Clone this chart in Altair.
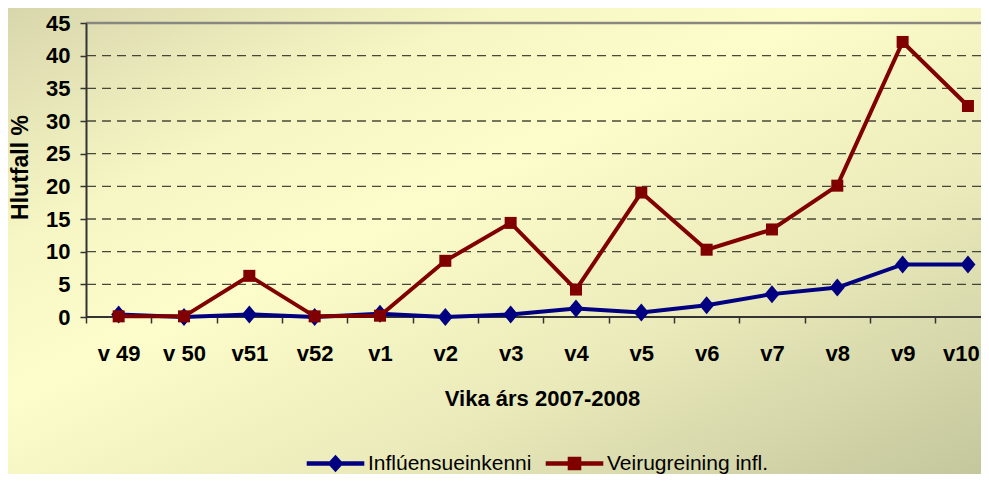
import altair as alt
import pandas as pd

weeks = ['v 49', 'v 50', 'v51', 'v52', 'v1', 'v2', 'v3', 'v4', 'v5', 'v6', 'v7', 'v8', 'v9', 'v10']
influ = [0.37, 0.0, 0.4, 0.0, 0.5, 0.0, 0.4, 1.3, 0.7, 1.8, 3.5, 4.5, 8.05, 8.05]
veiru = [0.1, 0.1, 6.3, 0.1, 0.2, 8.6, 14.4, 4.2, 19.05, 10.3, 13.4, 20.1, 42.1, 32.3]
y_ticks = [0, 5, 10, 15, 20, 25, 30, 35, 40, 45]
series_names = ['Inflúensueinkenni', 'Veirugreining infl.']

BLUE = '#000080'
RED = '#800000'
FONT = 'Liberation Sans'

W, H = 895, 294
STEP = 65.33

df = pd.DataFrame({'idx': list(range(len(weeks))), 'week': weeks,
                   'influ': influ, 'veiru': veiru})
df_b = df.assign(series=series_names[0])
df_r = df.assign(series=series_names[1])
grid_df = pd.DataFrame({'v': y_ticks[1:-1]})
top_df = pd.DataFrame({'v': y_ticks[-1:]})
base_df = pd.DataFrame({'v': y_ticks[:1]})

label_expr = '[' + ','.join("'" + w + "'" for w in weeks) + '][round(datum.value + 0.5)]'
last_tick = len(weeks) - 1.5

xscale = alt.Scale(domain=[-0.5, -0.5 + W / STEP], nice=False, zero=False)
yscale = alt.Scale(domain=[0, 45], nice=False)

xaxis = alt.Axis(values=[i - 0.5 for i in range(len(weeks))], labelExpr=label_expr,
                 labelOffset={'condition': {'test': f'datum.value > {last_tick - 0.1}', 'value': 44},
                              'value': STEP / 2},
                 labelAlign={'condition': {'test': f'datum.value > {last_tick - 0.1}', 'value': 'right'},
                             'value': 'center'},
                 labelFlush=False, labelOverlap=False, labelBound=False,
                 labelFont=FONT, labelFontSize=22, labelFontWeight='bold', labelColor='black',
                 labelBaseline='alphabetic', labelPadding=37,
                 domain=False, tickSize=6, tickColor='#333', tickWidth=1.5, grid=False,
                 title='Vika árs 2007-2008', titleFont=FONT, titleFontSize=22,
                 titleFontWeight='bold', titleColor='black', titleX=456, titleY=88,
                 titleAlign='center', titleBaseline='alphabetic', zindex=1)
yaxis = alt.Axis(values=y_ticks, labelOverlap=False, labelFlush=False, labelBound=False,
                 labelFont=FONT, labelFontSize=22, labelFontWeight='bold',
                 labelColor='black', labelPadding=10, tickSize=6, tickColor='#333',
                 tickWidth=1.5, domainColor='#333', domainWidth=2, grid=False,
                 title='Hlutfall %', titleFont=FONT, titleFontSize=23, titleFontWeight='bold',
                 titleColor='black', titleX=-66, titleY=144, titleAngle=-90,
                 titleAlign='center', titleBaseline='middle', zindex=1)


def X():
    return alt.X('idx:Q', scale=xscale, axis=xaxis)


def Y(field):
    return alt.Y(field, scale=yscale, axis=yaxis)


bg_grad = alt.LinearGradient(gradient='linear', x1=0, y1=0, x2=1, y2=1, stops=[
    alt.GradientStop(color='#d8d6ac', offset=0.0),
    alt.GradientStop(color='#f6f6c4', offset=0.25),
    alt.GradientStop(color='#fdfdcb', offset=0.42),
    alt.GradientStop(color='#eaeaba', offset=0.68),
    alt.GradientStop(color='#c4c69c', offset=1.0)])

bg = alt.Chart(pd.DataFrame({'a': [0]})).mark_rect(fill=bg_grad).encode(
    x=alt.value(-78), x2=alt.value(W), y=alt.value(-15), y2=alt.value(H + 157))

grid = alt.Chart(grid_df).mark_rule(color='#2a2a20', strokeWidth=1.3, strokeDash=[9, 6],
                                    opacity=0.85).encode(y=Y('v:Q'))
top = alt.Chart(top_df).mark_rule(color='#888880', strokeWidth=2.5).encode(y=Y('v:Q'))
base = alt.Chart(base_df).mark_rule(color='#333', strokeWidth=2).encode(y=Y('v:Q'))

DIAMOND = 'M0,-1.2L1,0L0,1.2L-1,0Z'
LEG_B = 'M-3.6,-0.28H3.6V0.28H-3.6Z M0,-1.1L1,0L0,1.1L-1,0Z'
LEG_R = 'M-3.6,-0.28H3.6V0.28H-3.6Z M-0.85,-0.85H0.85V0.85H-0.85Z'


def legend(x, sym):
    return alt.Legend(orient='none', legendX=x, legendY=430, title=None,
                      symbolType=sym, symbolSize=256, padding=0,
                      labelFont=FONT, labelFontSize=21, labelColor='black',
                      labelOffset=22, labelLimit=400, symbolOpacity=1)


line_b = alt.Chart(df_b).mark_line(color=BLUE, strokeWidth=4).encode(x=X(), y=Y('influ:Q'))
pts_b = alt.Chart(df_b).mark_point(filled=True, shape=DIAMOND, size=225, opacity=1).encode(
    x=X(), y=Y('influ:Q'),
    color=alt.Color('series:N', scale=alt.Scale(domain=series_names[:1], range=[BLUE]),
                    legend=legend(239, LEG_B)))
line_r = alt.Chart(df_r).mark_line(color=RED, strokeWidth=4).encode(x=X(), y=Y('veiru:Q'))
pts_r = alt.Chart(df_r).mark_point(filled=True, shape='square', size=144, opacity=1).encode(
    x=X(), y=Y('veiru:Q'),
    color=alt.Color('series:N', scale=alt.Scale(domain=series_names[1:], range=[RED]),
                    legend=legend(478, LEG_R)))

chart = alt.layer(bg, grid, top, base, line_b, pts_b, line_r, pts_r).resolve_scale(
    color='independent'
).properties(
    width=W, height=H,
    autosize=alt.AutoSizeParams(type='none'),
    padding={'left': 78, 'top': 15, 'right': 0, 'bottom': 157},
    background='#fdfdcb'
).configure_view(stroke=None)

chart.save('out.html', embed_options={'renderer': 'svg', 'actions': False})
